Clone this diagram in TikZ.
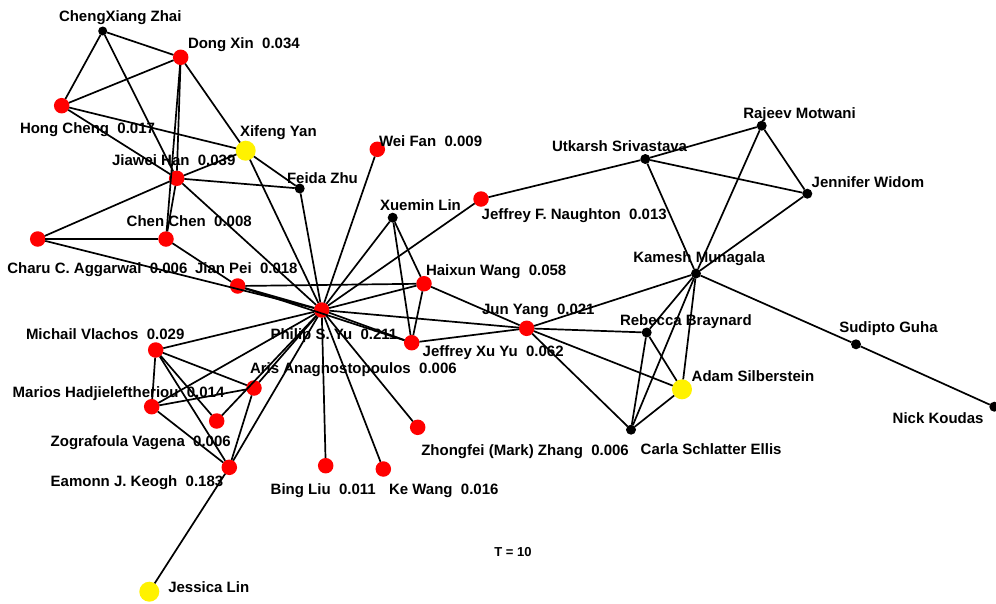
\documentclass[tikz,border=0pt]{standalone}
\usepackage{fontspec}
\setmainfont{Liberation Sans}
\begin{document}
\begin{tikzpicture}[x=1pt,y=-1pt,
  vtx/.style={circle,inner sep=0pt,outer sep=0pt,draw=none},
  rednode/.style={vtx,fill=red,minimum size=15.5pt},
  yelnode/.style={vtx,fill=yellow,minimum size=20pt},
  blknode/.style={vtx,fill=black,minimum size=10pt},
  lbl/.style={anchor=base west,inner sep=0pt,outer sep=0pt,
    font=\fontsize{15}{18}\selectfont\bfseries},
  edge/.style={draw=black,line width=1.7pt}]
\useasboundingbox (0,0) rectangle (996,603);

% vertices
\node[blknode,minimum size=9pt] (zhai) at (102.7,31) {};
\node[rednode] (dong) at (180.7,57.3) {};
\node[rednode] (hong) at (61.7,105.7) {};
\node[yelnode] (xifeng) at (245.7,150.7) {};
\node[rednode] (han) at (176.7,178.3) {};
\node[blknode] (feida) at (299.7,188.5) {};
\node[rednode] (weifan) at (377.3,149.3) {};
\node[blknode] (xuemin) at (392.7,217.7) {};
\node[rednode] (naughton) at (481,199) {};
\node[blknode] (utkarsh) at (645.3,159) {};
\node[blknode] (rajeev) at (761.7,125.7) {};
\node[blknode] (jennifer) at (807.3,193.7) {};
\node[blknode] (kamesh) at (696,273.5) {};
\node[rednode] (chen) at (166,239) {};
\node[rednode] (charu) at (37.7,239) {};
\node[rednode] (jianpei) at (237.7,286) {};
\node[rednode] (haixun) at (424,283.7) {};
\node[rednode] (philip) at (321.7,310) {};
\node[rednode] (junyang) at (526.7,328.3) {};
\node[rednode] (jxy) at (411.7,342.7) {};
\node[blknode] (rebecca) at (646.7,332.5) {};
\node[blknode] (sudipto) at (856,344.3) {};
\node[yelnode] (adam) at (682,389.3) {};
\node[blknode] (nick) at (994.3,406.7) {};
\node[rednode] (michail) at (155.7,350) {};
\node[rednode] (aris) at (254,388) {};
\node[rednode] (marios) at (151.7,406.7) {};
\node[rednode] (zog) at (216.7,421) {};
\node[rednode] (eamonn) at (229.3,467.3) {};
\node[yelnode] (jessica) at (149.3,591.7) {};
\node[rednode] (bing) at (325.7,465.7) {};
\node[rednode] (kewang) at (383.3,469) {};
\node[rednode] (zhongfei) at (417.7,427.3) {};
\node[blknode] (carla) at (631,429.7) {};

% labels
\node[lbl] (lzhai) at (59,21) {ChengXiang Zhai};
\node[lbl] (ldong) at (188,48) {Dong Xin\ \ 0.034};
\node[lbl] (lhong) at (20,133) {Hong Cheng\ \ 0.017};
\node[lbl] (lxifeng) at (240,136) {Xifeng Yan};
\node[lbl] (lhan) at (112,165) {Jiawei Han\ \ 0.039};
\node[lbl] (lfeida) at (287,183) {Feida Zhu};
\node[lbl] (lweifan) at (379,146.5) {Wei Fan\ \ 0.009};
\node[lbl] (lxuemin) at (380,210.5) {Xuemin Lin};
\node[lbl] (lnaughton) at (481.7,219.5) {Jeffrey F. Naughton\ \ 0.013};
\node[lbl] (lutkarsh) at (552,151.5) {Utkarsh Srivastava};
\node[lbl] (lrajeev) at (743.3,118) {Rajeev Motwani};
\node[lbl] (ljennifer) at (811.7,187) {Jennifer Widom};
\node[lbl] (lkamesh) at (633.3,262) {Kamesh Munagala};
\node[lbl] (lchen) at (126.7,226) {Chen Chen\ \ 0.008};
\node[lbl] (lcharu) at (7.3,273) {Charu C. Aggarwal\ \ 0.006};
\node[lbl] (ljianpei) at (195,273) {Jian Pei\ \ 0.018};
\node[lbl] (lhaixun) at (426,275) {Haixun Wang\ \ 0.058};
\node[lbl] (lphilip) at (270.5,339) {Philip S. Yu\ \ 0.211};
\node[lbl] (ljunyang) at (482,314) {Jun Yang\ \ 0.021};
\node[lbl] (ljxy) at (422.7,356) {Jeffrey Xu Yu\ \ 0.062};
\node[lbl] (lrebecca) at (620,325) {Rebecca Braynard};
\node[lbl] (lsudipto) at (839.3,332) {Sudipto Guha};
\node[lbl] (ladam) at (691.7,381) {Adam Silberstein};
\node[lbl] (lnick) at (892.7,423) {Nick Koudas};
\node[lbl] (lmichail) at (26,339) {Michail Vlachos\ \ 0.029};
\node[lbl] (laris) at (250,373) {Aris Anagnostopoulos\ \ 0.006};
\node[lbl] (lmarios) at (12.7,397) {Marios Hadjieleftheriou\ \ 0.014};
\node[lbl] (lzog) at (50.7,446.5) {Zografoula Vagena\ \ 0.006};
\node[lbl] (leamonn) at (50.7,486) {Eamonn J. Keogh\ \ 0.183};
\node[lbl] (ljessica) at (168.3,592) {Jessica Lin};
\node[lbl] (lbing) at (270.7,494) {Bing Liu\ \ 0.011};
\node[lbl] (lkewang) at (389,494) {Ke Wang\ \ 0.016};
\node[lbl] (lzhongfei) at (421.3,455) {Zhongfei (Mark) Zhang\ \ 0.006};
\node[lbl] (lcarla) at (640.7,454.5) {Carla Schlatter Ellis};
\node[lbl,font=\fontsize{13}{15}\selectfont\bfseries] (ltime) at (494.3,556.7) {T = 10};

% collaboration edges
\foreach \a/\b in {zhai/dong, zhai/hong, zhai/han, dong/hong, dong/han, dong/chen,
  dong/xifeng, hong/xifeng, hong/han, han/xifeng, han/feida, han/chen, han/charu,
  han/philip, xifeng/feida, xifeng/philip, feida/philip, charu/chen, charu/philip,
  chen/jianpei, jianpei/philip, jianpei/haixun, jianpei/jxy, weifan/philip,
  xuemin/philip, xuemin/haixun, xuemin/jxy, naughton/philip, naughton/utkarsh,
  haixun/philip, haixun/jxy, haixun/junyang, philip/junyang, philip/jxy,
  jxy/junyang, junyang/kamesh, junyang/rebecca, junyang/adam, junyang/carla,
  kamesh/utkarsh, kamesh/rajeev, kamesh/jennifer, kamesh/rebecca, kamesh/adam,
  kamesh/carla, kamesh/sudipto, sudipto/nick, utkarsh/rajeev, utkarsh/jennifer,
  rajeev/jennifer, rebecca/adam, rebecca/carla, carla/adam, michail/philip,
  michail/marios, michail/aris, michail/zog, michail/eamonn, marios/aris,
  marios/philip, marios/eamonn, aris/philip, zog/philip, aris/eamonn,
  eamonn/philip, eamonn/jessica, philip/bing, philip/kewang, philip/zhongfei}
  \draw[edge] (\a) -- (\b);
\end{tikzpicture}
\end{document}
